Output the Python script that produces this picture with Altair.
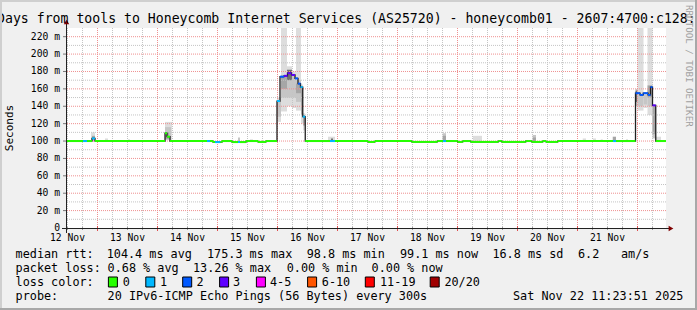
import altair as alt
import pandas as pd

MONO = "DejaVu Sans Mono"
OX, OY = 66, 28          # plot-area origin inside the 697x310 picture
PW, PH = 600, 200        # plot-area size

# time axis: hours since 12 Nov 00:00  (12 Nov 11:24 .. 22 Nov 11:24)
T0, T1 = 11.4, 251.4
Y0, Y1 = 0, 230          # milliseconds

# ---------------- median rtt (step segments) ----------------
seg_start = [11.4, 18.2, 19.8, 21.8, 23.0, 51.0, 51.8, 53.0, 67.8, 69.0, 70.2, 71.0, 73.2, 73.8,
             77.8, 80.2, 81.0, 83.4, 88.2, 91.4, 95.8, 97.0, 98.6, 100.0, 101.6, 103.0, 104.2,
             105.2, 106.1, 107.1, 117.0, 119.0, 132.2, 135.0, 149.7, 159.9, 162.2, 163.4, 168.1,
             170.1, 173.3, 184.3, 185.7, 195.3, 197.7, 202.1, 203.4, 208.1, 230.2, 231.4, 239.2,
             241.0, 242.3, 244.2, 245.2, 246.0, 247.3]
seg_value = [100, 100, 100, 103, 100, 109, 105, 100, 100, 100, 98.8, 98.8, 98.8, 100,
             98.8, 98.8, 98.8, 100, 99, 100, 146, 174, 175, 178, 176, 172, 166,
             162, 128, 100, 100, 100, 99, 100, 99, 100, 100, 100, 99,
             100, 99, 100, 99, 100, 99, 100, 99, 100, 100, 100, 155,
             153, 155, 153, 162, 141, 100]
seg_loss = ["0", "1", "0", "1", "0", "0", "0", "0", "1", "0", "0", "1", "0", "0",
            "0", "1", "0", "0", "0", "0", "1", "2", "3", "3", "3", "2", "2",
            "1", "1", "0", "1", "0", "0", "0", "0", "0", "1", "0", "0",
            "0", "0", "0", "0", "0", "0", "0", "0", "0", "1", "0", "2",
            "2", "2", "2", "2", "3", "0"]

# ---------------- smoke (ping spread bands) ----------------
smoke_start = [21.4, 21.8, 27.0, 36.2, 51.0, 51.0, 51.0, 80.2, 85.0,
               95.8, 95.8, 97.4, 97.4, 97.4, 99.8, 99.8, 99.8, 101.8, 101.8,
               103.4, 103.4, 103.4, 105.4, 105.4, 106.2, 106.2,
               116.2, 117.4, 162.1, 162.1, 174.2, 198.1, 198.1, 218.1, 222.2, 225.3, 230.1, 235.4,
               239.2, 239.2, 240.0, 240.0, 242.4, 242.4, 244.0, 244.0, 244.0, 246.0, 246.0, 247.3]
smoke_end = [23.0, 23.0, 28.2, 37.0, 53.8, 53.4, 52.6, 81.0, 86.2,
             97.4, 97.4, 99.8, 99.8, 99.8, 101.8, 101.8, 101.8, 103.4, 103.4,
             105.4, 105.4, 105.4, 106.2, 106.2, 107.0, 107.0,
             119.0, 118.2, 163.4, 163.4, 177.8, 199.4, 199.4, 219.4, 223.4, 226.1, 231.4, 236.2,
             240.0, 240.0, 242.4, 242.4, 244.0, 244.0, 246.0, 246.0, 246.0, 247.3, 247.3, 249.4]
smoke_low = [100, 101, 100, 100, 101, 102, 102, 99, 99,
             122, 128, 134, 150, 160, 140, 150, 170, 138, 150,
             135, 145, 155, 120, 130, 112, 118,
             100, 100, 100, 100, 100, 100, 100, 100, 100, 100, 100, 100,
             140, 145, 135, 140, 138, 142, 130, 140, 150, 103, 108, 100]
smoke_high = [110, 106, 103, 102, 122, 116, 110, 104, 102,
              150, 146, 230, 176, 175, 186, 180, 182, 180, 176,
              230, 170, 166, 165, 162, 132, 130,
              105, 103, 109, 106, 106, 107, 104, 103, 103, 102, 105, 102,
              160, 158, 230, 153, 155, 153, 230, 160, 164, 141, 140, 105]
smoke_band = [0, 2, 0, 0, 0, 1, 2, 1, 0,
              0, 1, 0, 1, 2, 0, 1, 3, 0, 1,
              0, 1, 2, 0, 2, 0, 2,
              0, 3, 1, 2, 0, 1, 2, 0, 0, 0, 2, 0,
              1, 3, 0, 1, 0, 1, 0, 1, 2, 1, 2, 0]

loss_labels = ["0", "1", "2", "3", "4-5", "6-10", "11-19", "20/20"]
loss_colors = ["#26ff00", "#00b8ff", "#0059ff", "#5e00ff", "#ff00ff", "#ff5500", "#ff0000", "#a00000"]

day_labels = ["12 Nov", "13 Nov", "14 Nov", "15 Nov", "16 Nov",
              "17 Nov", "18 Nov", "19 Nov", "20 Nov", "21 Nov"]
day_label_hours = [12, 36, 60, 84, 108, 132, 156, 180, 204, 228]   # noon of each day

y_ticks = [0, 20, 40, 60, 80, 100, 120, 140, 160, 180, 200, 220]

rtt_stats = [104.4, 175.3, 98.8, 99.1, 16.8]
rtt_names = ["avg", "max", "min", "now", "sd"]
am_s = 6.2
loss_stats = [0.68, 13.26, 0.00, 0.00]
loss_names = ["avg", "max", "min", "now"]

title_text = "Days from tools to Honeycomb Internet Services (AS25720) - honeycomb01 - 2607:4700:c128:"
probe_text = "20 IPv6-ICMP Echo Pings (56 Bytes) every 300s"
stamp_text = "Sat Nov 22 11:23:51 2025"

# ---------------- tables ----------------
seg_end = seg_start[1:] + [T1]
segs = pd.DataFrame({"t0": seg_start, "t1": seg_end, "v": seg_value, "loss": seg_loss})
step = pd.DataFrame({"t": seg_start + [T1], "v": seg_value + [seg_value[-1]]})
smoke = pd.DataFrame({"t0": smoke_start, "t1": smoke_end, "lo": smoke_low,
                      "hi": smoke_high, "band": smoke_band})

x_major = [h for h in range(24, 252, 24)]
x_minor = [h for h in range(12, 252, 6) if h % 24 != 0]
y_major = list(range(20, 221, 20))
y_minor = list(range(10, 221, 20))

xs = alt.Scale(domain=[T0, T1], nice=False, zero=False)
ys = alt.Scale(domain=[Y0, Y1], nice=False, zero=False)
dummy = pd.DataFrame({"a": [0]})


def X(f):
    return alt.X(f, type="quantitative", scale=xs, axis=None)


def Y(f):
    return alt.Y(f, type="quantitative", scale=ys, axis=None)


def ptext(xa, ya, txt, size=11.8, align="left", color="black", angle=0):
    return alt.Chart(dummy).mark_text(
        text=txt, font=MONO, fontSize=size, align=align, baseline="middle",
        color=color, angle=angle
    ).encode(x=alt.value(xa - OX), y=alt.value(ya - OY))


def prect(x0, x1, y0, y1, color):
    return alt.Chart(dummy).mark_rect(color=color).encode(
        x=alt.value(x0 - OX), x2=alt.value(x1 - OX), y=alt.value(y0 - OY), y2=alt.value(y1 - OY))


def prule(x0, x1, y0, y1, color, width=1):
    return alt.Chart(dummy).mark_rule(color=color, strokeWidth=width).encode(
        x=alt.value(x0 - OX), x2=alt.value(x1 - OX), y=alt.value(y0 - OY), y2=alt.value(y1 - OY))


layers = []

# smoke
layers.append(alt.Chart(smoke).mark_rect().encode(
    x=X("t0"), x2="t1", y=Y("lo"), y2="hi",
    fill=alt.Fill("band:O", scale=alt.Scale(domain=[0, 1, 2, 3],
                                            range=["#dddddd", "#c6c6c6", "#a6a6a6", "#707070"]),
                  legend=None)))

# grid
layers.append(alt.Chart(pd.DataFrame({"t": x_minor})).mark_rule(
    color="#c4c4c4", strokeDash=[1, 1], strokeWidth=1).encode(x=X("t")))
layers.append(alt.Chart(pd.DataFrame({"v": y_minor})).mark_rule(
    color="#c4c4c4", strokeDash=[1, 1], strokeWidth=1).encode(y=Y("v")))
layers.append(alt.Chart(pd.DataFrame({"t": x_major})).mark_rule(
    color="#ef9090", strokeDash=[1, 1], strokeWidth=1).encode(x=X("t")))
layers.append(alt.Chart(pd.DataFrame({"v": y_major})).mark_rule(
    color="#ef9090", strokeDash=[1, 1], strokeWidth=1).encode(y=Y("v")))

# median line (dark step) + loss-coloured segments
layers.append(alt.Chart(step).mark_line(interpolate="step-after", color="#202020",
                                        strokeWidth=1.3).encode(x=X("t"), y=Y("v")))
layers.append(alt.Chart(segs).mark_rule(strokeWidth=2).encode(
    x=X("t0"), x2="t1", y=Y("v"),
    color=alt.Color("loss:N", scale=alt.Scale(domain=loss_labels, range=loss_colors), legend=None)))

# axis ticks
layers.append(alt.Chart(pd.DataFrame({"v": y_major})).mark_rule(color="#777777").encode(
    y=Y("v"), x=alt.value(-3), x2=alt.value(0)))
layers.append(alt.Chart(pd.DataFrame({"t": x_minor})).mark_rule(color="#999999").encode(
    x=X("t"), y=alt.value(PH - 1), y2=alt.value(PH + 2)))
layers.append(alt.Chart(pd.DataFrame({"t": x_major})).mark_rule(color="#e05050").encode(
    x=X("t"), y=alt.value(PH - 2), y2=alt.value(PH + 3)))

# axes + arrows
layers.append(prule(66.5, 66.5, 22, 233, "#222222"))
layers.append(prule(62, 670, 228.5, 228.5, "#222222"))
layers.append(alt.Chart(dummy).mark_point(shape="triangle-up", filled=True, size=30,
                                          color="#7f0000", opacity=1).encode(
    x=alt.value(66.5 - OX), y=alt.value(22 - OY)))
layers.append(alt.Chart(dummy).mark_point(shape="triangle-right", filled=True, size=30,
                                          color="#7f0000", opacity=1).encode(
    x=alt.value(671 - OX), y=alt.value(228.5 - OY)))

# axis labels
ylab = pd.DataFrame({"v": y_ticks, "lab": ["0" if v == 0 else f"{v} m" for v in y_ticks]})
layers.append(alt.Chart(ylab).mark_text(font=MONO, fontSize=9.7, align="right",
                                        baseline="middle", color="black").encode(
    y=Y("v"), x=alt.value(60 - OX), text="lab:N"))
xlab = pd.DataFrame({"h": day_label_hours, "lab": day_labels})
layers.append(alt.Chart(xlab).mark_text(font=MONO, fontSize=9.7, align="center",
                                        baseline="middle", color="black").encode(
    x=X("h"), y=alt.value(238 - OY), text="lab:N"))

# titles
layers.append(ptext(-3, 19, title_text, size=13.2))
layers.append(ptext(9.5, 128, "Seconds", size=11, align="center", angle=270))
layers.append(ptext(689, 5, "RRDTOOL / TOBI OETIKER", size=9.2, color="#a0a0a0", angle=90))

# legend rows
r1, r2, r3, r4 = 254.3, 268.3, 282.3, 296
layers.append(ptext(15.6, r1, "median rtt:"))
for xa, val, nm in zip([106.7, 207, 306.7, 400, 492.4], rtt_stats, rtt_names):
    layers.append(ptext(xa, r1, f"{val:.1f} ms {nm}"))
layers.append(ptext(578, r1, f"{am_s:.1f}"))
layers.append(ptext(621, r1, "am/s"))

layers.append(ptext(15.6, r2, "packet loss:"))
for xa, val, nm in zip([107.6, 193, 286.7, 371.6], loss_stats, loss_names):
    layers.append(ptext(xa, r2, f"{val:.2f} % {nm}"))

layers.append(ptext(15.6, r3, "loss color:"))
box_x = [108.4, 145.8, 182.7, 219.6, 256.4, 307.6, 365.3, 430.2]
lab_x = [122.7, 160, 196.4, 233, 270, 321.8, 380, 444.4]
boxes = pd.DataFrame({"loss": loss_labels,
                      "bx": [b - OX for b in box_x],
                      "bx2": [b + 9 - OX for b in box_x]})
layers.append(alt.Chart(boxes).mark_rect(stroke="black", strokeWidth=1).encode(
    x=alt.X("bx:Q", scale=None), x2="bx2:Q",
    y=alt.value(277 - OY), y2=alt.value(287 - OY),
    color=alt.Color("loss:N", scale=alt.Scale(domain=loss_labels, range=loss_colors), legend=None)))
for xa, lab in zip(lab_x, loss_labels):
    layers.append(ptext(xa, r3, lab))

layers.append(ptext(15.6, r4, "probe:"))
layers.append(ptext(107.6, r4, probe_text))
layers.append(ptext(513, r4, stamp_text))

# frame shading
layers.append(prect(0, 697, 0, 2, "#cfcfcf"))
layers.append(prect(0, 2, 0, 310, "#cfcfcf"))
layers.append(prect(695, 697, 0, 310, "#a8a8a8"))
layers.append(prect(0, 697, 308, 310, "#a8a8a8"))

chart = alt.layer(*layers).properties(
    width=PW, height=PH,
    padding={"left": OX, "top": OY, "right": 697 - OX - PW, "bottom": 310 - OY - PH},
    autosize=alt.AutoSizeParams(type="none"),
    background="#f0f0f0",
).configure_view(fill="white", stroke=None)

chart.save("out.html", embed_options={"renderer": "svg", "actions": False})
